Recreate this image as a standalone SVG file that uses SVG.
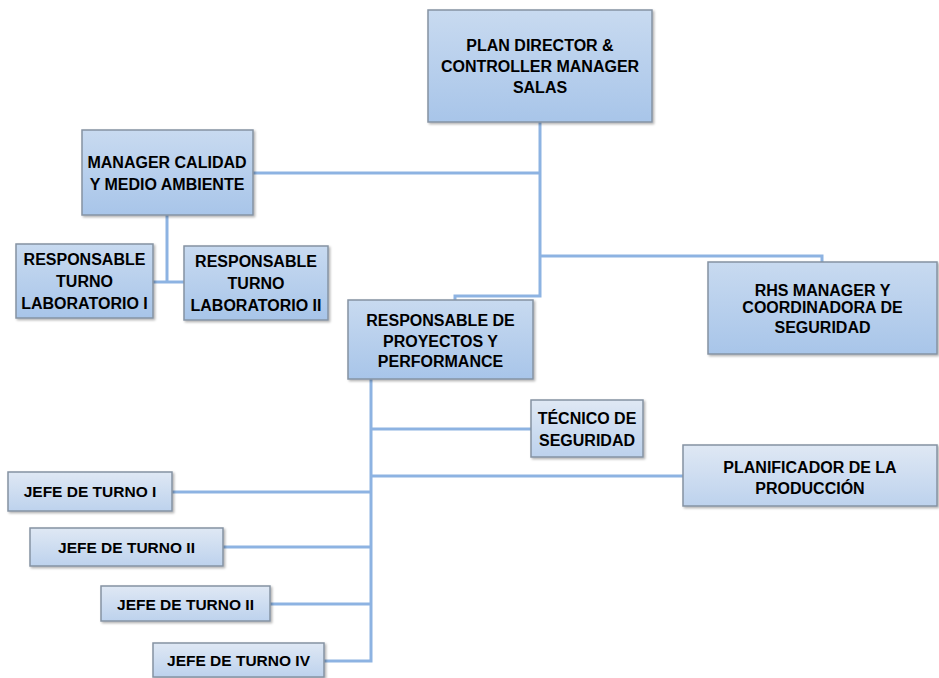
<svg xmlns="http://www.w3.org/2000/svg" width="939" height="678" viewBox="0 0 939 678">
<defs>
<linearGradient id="gDark" x1="0" y1="0" x2="0" y2="1">
<stop offset="0" stop-color="#c8daf0"/>
<stop offset="1" stop-color="#a8c5e9"/>
</linearGradient>
<linearGradient id="gLight" x1="0" y1="0" x2="0" y2="1">
<stop offset="0" stop-color="#dfe8f4"/>
<stop offset="1" stop-color="#bdd2ed"/>
</linearGradient>
<filter id="sh" x="-5%" y="-5%" width="115%" height="120%">
<feDropShadow dx="1.5" dy="1.5" stdDeviation="1" flood-color="#000" flood-opacity="0.3"/>
</filter>
</defs>
<style>
.box{fill:url(#gDark);stroke:#8593a3;stroke-width:1.5;filter:url(#sh)}
.lbox{fill:url(#gLight);stroke:#8593a3;stroke-width:1.5;filter:url(#sh)}
text{font-family:"Liberation Sans",Arial,sans-serif;font-weight:bold;font-size:16px;fill:#000;text-anchor:middle}
.s{font-size:15.5px}
.c{fill:none;stroke:#8db3e2;stroke-width:3}
</style>
<rect width="939" height="678" fill="#fff"/>
<g id="connectors">
<polyline class="c" points="540,122 540,296 455,296 455,300"/>
<polyline class="c" points="253,173 540,173"/>
<polyline class="c" points="540,256 822,256 822,262"/>
<polyline class="c" points="167,215 167,282"/>
<polyline class="c" points="153,282 184,282"/>
<polyline class="c" points="371,379 371,661 324,661"/>
<polyline class="c" points="371,429 531,429"/>
<polyline class="c" points="371,476 683,476"/>
<polyline class="c" points="172,492 371,492"/>
<polyline class="c" points="223,547 371,547"/>
<polyline class="c" points="270,604 371,604"/>
</g>
<g id="plan-director">
<rect class="box" x="428" y="10" width="224" height="112"/>
<text x="540" y="51">PLAN DIRECTOR &amp;</text>
<text x="540" y="72">CONTROLLER MANAGER</text>
<text x="540" y="93">SALAS</text>
</g>
<g id="manager-calidad">
<rect class="box" x="82" y="130" width="171" height="85"/>
<text x="167" y="168">MANAGER CALIDAD</text>
<text x="167" y="190">Y MEDIO AMBIENTE</text>
</g>
<g id="resp-lab-1">
<rect class="box" x="16" y="244" width="137" height="74"/>
<text x="84.5" y="265">RESPONSABLE</text>
<text x="84.5" y="287">TURNO</text>
<text x="84.5" y="309">LABORATORIO I</text>
</g>
<g id="resp-lab-2">
<rect class="box" x="184" y="246" width="144" height="74"/>
<text x="256" y="267">RESPONSABLE</text>
<text x="256" y="289">TURNO</text>
<text x="256" y="311">LABORATORIO II</text>
</g>
<g id="resp-proyectos">
<rect class="box" x="348" y="300" width="185" height="79"/>
<text x="440.5" y="326">RESPONSABLE DE</text>
<text x="440.5" y="347">PROYECTOS Y</text>
<text x="440.5" y="367">PERFORMANCE</text>
</g>
<g id="rhs-manager">
<rect class="box" x="708" y="262" width="229" height="92"/>
<text x="822.5" y="296">RHS MANAGER Y</text>
<text x="822.5" y="313">COORDINADORA DE</text>
<text x="822.5" y="333">SEGURIDAD</text>
</g>
<g id="tecnico-seguridad">
<rect class="lbox" x="531" y="400" width="112" height="57"/>
<text x="587" y="424">TÉCNICO DE</text>
<text x="587" y="446">SEGURIDAD</text>
</g>
<g id="planificador">
<rect class="lbox" x="683" y="445" width="254" height="61"/>
<text x="810" y="473">PLANIFICADOR DE LA</text>
<text x="810" y="494">PRODUCCIÓN</text>
</g>
<g id="jefe-turno-1">
<rect class="lbox" x="8" y="472" width="164" height="39"/>
<text class="s" x="90" y="497">JEFE DE TURNO I</text>
</g>
<g id="jefe-turno-2">
<rect class="lbox" x="30" y="528" width="193" height="38"/>
<text class="s" x="126.5" y="553">JEFE DE TURNO II</text>
</g>
<g id="jefe-turno-3">
<rect class="lbox" x="101" y="586" width="169" height="35"/>
<text class="s" x="185.5" y="610">JEFE DE TURNO II</text>
</g>
<g id="jefe-turno-4">
<rect class="lbox" x="153" y="643" width="171" height="34"/>
<text class="s" x="238.5" y="666">JEFE DE TURNO IV</text>
</g>
</svg>
